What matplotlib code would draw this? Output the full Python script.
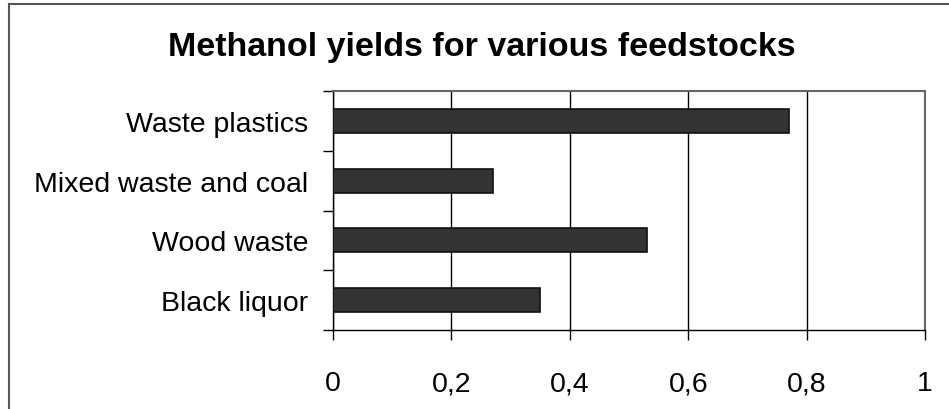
import matplotlib.pyplot as plt
from matplotlib.patches import Rectangle
from matplotlib.ticker import FixedLocator

plt.rcParams['font.family'] = ['Liberation Sans', 'DejaVu Sans']

feedstocks = ['Waste plastics', 'Mixed waste and coal', 'Wood waste', 'Black liquor']
yields = [0.77, 0.27, 0.53, 0.35]
x_ticks = [0, 0.2, 0.4, 0.6, 0.8, 1]
x_labels = ['0', '0,2', '0,4', '0,6', '0,8', '1']

fig = plt.figure(figsize=(9.49, 4.10), dpi=100)
ax = fig.add_axes([333 / 949, 79 / 410, 592 / 949, 239 / 410])

# Outer chart frame (runs off the right and bottom edges)
fig.patches.append(Rectangle((9 / 949, -0.1), 1.2, 1.1 - 5 / 410,
                             transform=fig.transFigure, fill=False,
                             edgecolor='#555555', linewidth=1.5))

positions = list(range(len(feedstocks)))
ax.barh(positions, yields, height=0.4, color='#333333',
        edgecolor='#111111', linewidth=1.2, zorder=3)

ax.set_xlim(0, 1)
ax.set_ylim(len(feedstocks) - 0.5, -0.5)
ax.set_xticks(x_ticks)
ax.set_xticklabels(x_labels)
ax.set_yticks(positions)
ax.set_yticklabels(feedstocks)
ax.yaxis.set_minor_locator(FixedLocator([p - 0.5 for p in range(len(feedstocks) + 1)]))

ax.grid(axis='x', color='black', linewidth=1.0, zorder=1)
ax.tick_params(axis='y', which='major', length=0, pad=18, labelsize=20.5)
ax.tick_params(axis='y', which='minor', length=7, width=1.0, color='black')
ax.tick_params(axis='x', length=7, width=1.0, color='black', pad=22, labelsize=20.5)

for side in ['left', 'bottom']:
    ax.spines[side].set_color('black')
    ax.spines[side].set_linewidth(1.0)
for side in ['top', 'right']:
    ax.spines[side].set_color('#666666')
    ax.spines[side].set_linewidth(1.5)

fig.text(482 / 949, 1 - 56 / 410, 'Methanol yields for various feedstocks',
         ha='center', va='baseline', fontsize=24.5, fontweight='bold')

fig.savefig('out.png', dpi=100)
